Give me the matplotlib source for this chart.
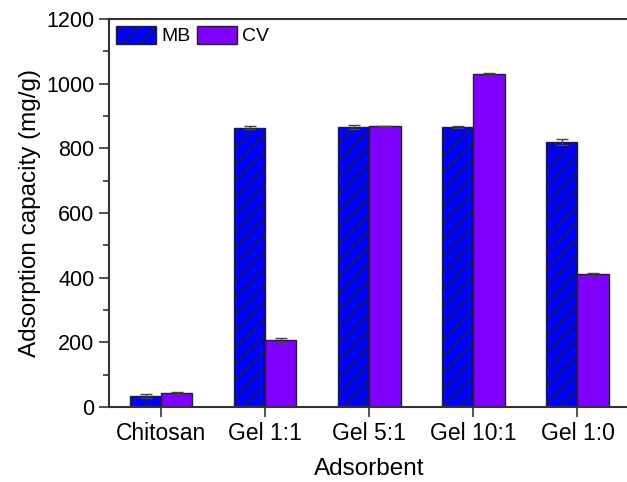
import matplotlib.pyplot as plt
import numpy as np

plt.rcParams['font.family'] = ['Liberation Sans', 'DejaVu Sans']
plt.rcParams['hatch.linewidth'] = 1.0

# data
categories = ['Chitosan', 'Gel 1:1', 'Gel 5:1', 'Gel 10:1', 'Gel 1:0']
mb = np.array([34, 864, 867, 865, 820])
mb_err = np.array([5, 4, 6, 3, 9])
cv = np.array([43, 206, 868, 1030, 410])
cv_err = np.array([4, 8, 2, 3, 4])

fig = plt.figure(figsize=(6.27, 4.82), dpi=100)
ax = fig.add_axes([0.174, 0.1556, 0.83, 0.805])

x = np.arange(len(categories))
w = 0.3
ax.bar(x - w/2, mb, w, yerr=mb_err, color='#0000ff', edgecolor='#222222', linewidth=1,
       hatch='//', label='MB', capsize=4, error_kw=dict(ecolor='#444444', elinewidth=1))
ax.bar(x + w/2, cv, w, yerr=cv_err, color='#7f00ff', edgecolor='#222222', linewidth=1,
       label='CV', capsize=4, error_kw=dict(ecolor='#444444', elinewidth=1))

ax.set_xlim(-0.5, 4.5)
ax.set_ylim(0, 1200)
ax.set_xticks(x)
ax.set_xticklabels(categories)
ax.set_yticks(np.arange(0, 1201, 200))
ax.set_yticks(np.arange(100, 1200, 200), minor=True)
ax.tick_params(axis='both', which='major', direction='out', length=7, width=1.2, color='#333333')
ax.tick_params(axis='y', labelsize=15.5)
ax.tick_params(axis='x', labelsize=16.5)
ax.tick_params(axis='y', which='minor', direction='out', length=4, width=1.2, color='#333333')
for s in ax.spines.values():
    s.set_linewidth(1.5)
    s.set_color('#333333')

ax.set_xlabel('Adsorbent', fontsize=17.5, labelpad=10)
ax.set_ylabel('Adsorption capacity (mg/g)', fontsize=17.5)

ax.legend(loc='upper left', ncol=2, frameon=False, fontsize=14, handlelength=2.05,
          handleheight=1.05, columnspacing=0.3, handletextpad=0.3,
          borderaxespad=0.15, borderpad=0.2, bbox_to_anchor=(0.0, 1.0))

fig.savefig('out.png', dpi=100)
